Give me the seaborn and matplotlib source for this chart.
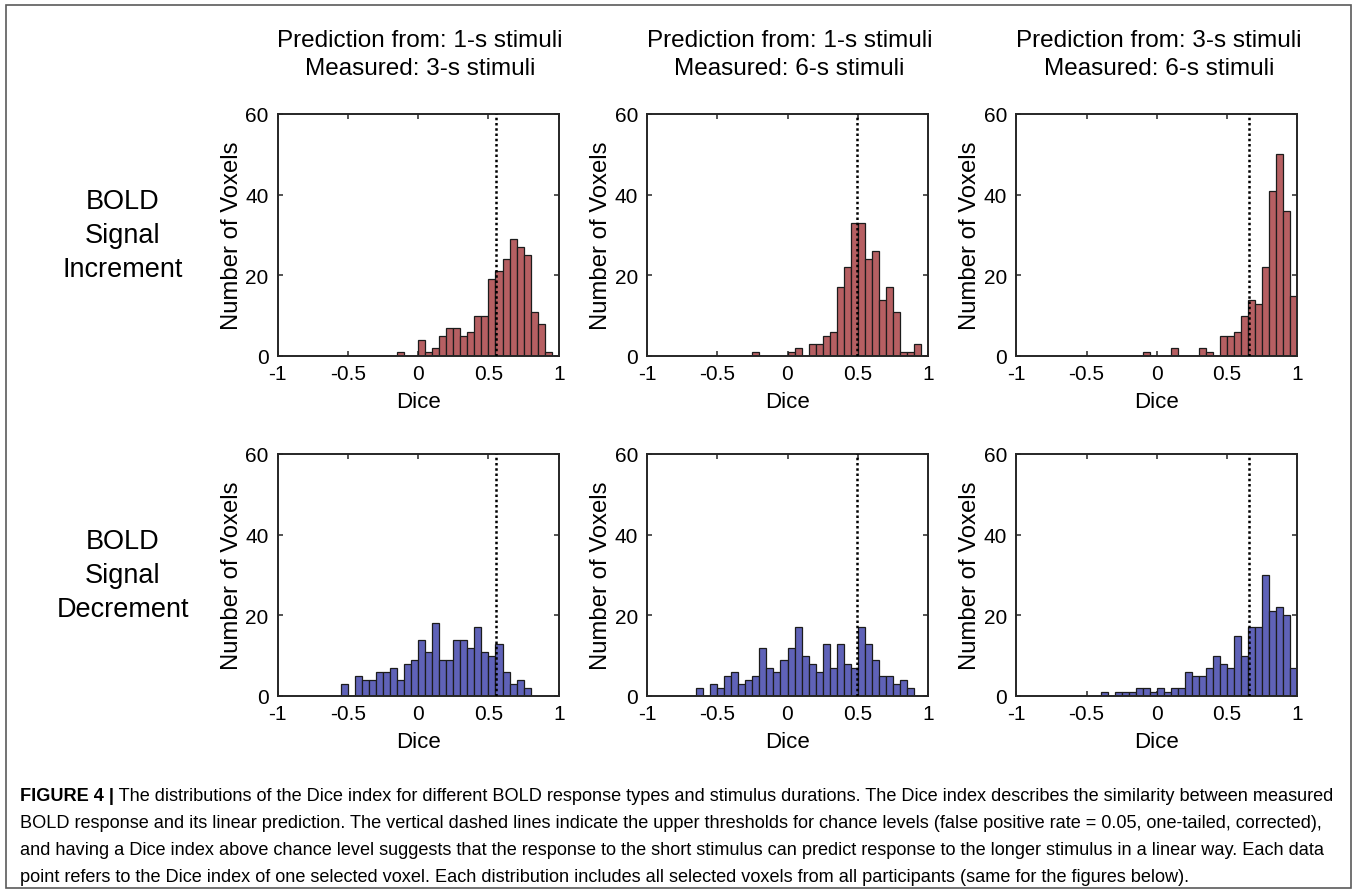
import numpy as np
import pandas as pd
import matplotlib
matplotlib.use("Agg")
import matplotlib.pyplot as plt
import seaborn as sns
from matplotlib.patches import Rectangle

# voxel counts per 0.05-wide Dice bin
# *_start = left edge of the first listed bin
inc_1to3_start = -0.15
inc_1to3 = [1, 0, 0, 4, 1, 2, 5, 7, 7, 5, 6, 10, 10, 19, 21, 24, 29, 27, 25, 11, 8, 1]
inc_1to6_start = -0.25
inc_1to6 = [1, 0, 0, 0, 0, 1, 2, 0, 3, 3, 5, 6, 17, 22, 33, 33, 24, 26, 14, 17, 11, 1, 1, 3]
inc_3to6_start = -0.10
inc_3to6 = [1, 0, 0, 0, 2, 0, 0, 0, 2, 1, 0, 5, 5, 6, 10, 14, 13, 22, 41, 50, 36, 15]

dec_1to3_start = -0.55
dec_1to3 = [3, 0, 5, 4, 4, 6, 6, 7, 4, 8, 9, 14, 11, 18, 9, 9, 14, 14, 12, 17, 11, 10, 13, 6, 3, 4, 2]
dec_1to6_start = -0.65
dec_1to6 = [2, 0, 3, 2, 5, 6, 3, 4, 5, 12, 7, 6, 9, 12, 17, 10, 8, 6, 13, 7, 13, 8, 7, 17, 13, 9, 5, 5, 3, 4, 2]
dec_3to6_start = -0.40
dec_3to6 = [1, 0, 1, 1, 1, 2, 2, 1, 2, 1, 2, 2, 6, 5, 5, 7, 10, 8, 7, 15, 10, 17, 17, 30, 21, 22, 20, 7]

# chance-level thresholds per column
thresholds = [0.555, 0.495, 0.655]

col_titles = [("Prediction from: 1-s stimuli", "Measured: 3-s stimuli"),
              ("Prediction from: 1-s stimuli", "Measured: 6-s stimuli"),
              ("Prediction from: 3-s stimuli", "Measured: 6-s stimuli")]
row_names = [["BOLD", "Signal", "Increment"], ["BOLD", "Signal", "Decrement"]]
xtick_vals = [-1, -0.5, 0, 0.5, 1]
xtick_labels = ["-1", "-0.5", "0", "0.5", "1"]
ytick_vals = [0, 20, 40, 60]

caption_bold = "FIGURE 4 |"
caption_lines = [
    " The distributions of the Dice index for different BOLD response types and stimulus durations. The Dice index describes the similarity between measured",
    "BOLD response and its linear prediction. The vertical dashed lines indicate the upper thresholds for chance levels (false positive rate = 0.05, one-tailed, corrected),",
    "and having a Dice index above chance level suggests that the response to the short stimulus can predict response to the longer stimulus in a linear way. Each data",
    "point refers to the Dice index of one selected voxel. Each distribution includes all selected voxels from all participants (same for the figures below).",
]

panels = [[(inc_1to3_start, inc_1to3), (inc_1to6_start, inc_1to6), (inc_3to6_start, inc_3to6)],
          [(dec_1to3_start, dec_1to3), (dec_1to6_start, dec_1to6), (dec_3to6_start, dec_3to6)]]
row_colors = ["#B65F62", "#5F62B8"]

sns.set_style("ticks")
plt.rcParams['font.family'] = ['Liberation Sans', 'DejaVu Sans']
plt.rcParams['axes.unicode_minus'] = False
plt.rcParams['text.color'] = 'black'
plt.rcParams['axes.labelcolor'] = 'black'

W, H = 1357, 895
fig = plt.figure(figsize=(W / 100, H / 100), dpi=100)

bin_width = 0.05
edges = [round(-1 + bin_width * i, 2) for i in range(41)]

lefts = [277.7, 647.0, 1016.3]
tops = [115.0, 455.0]
ax_w, ax_h = 281.0, 242.0


def hist_panel(ax, start, counts, color, thr):
    centers = start + bin_width * (np.arange(len(counts)) + 0.5)
    df = pd.DataFrame({"Dice": centers, "n": counts})
    sns.histplot(data=df, x="Dice", weights="n", bins=edges, color=color, alpha=1,
                 edgecolor="#1c1c1c", linewidth=0.9, ax=ax)
    ax.axvline(thr, color="black", linestyle=(0, (1, 1.1)), linewidth=1.8, zorder=5)
    ax.set_xlim(-1, 1)
    ax.set_ylim(0, 60)
    ax.set_xticks(xtick_vals)
    ax.set_xticklabels(xtick_labels)
    ax.set_yticks(ytick_vals)
    ax.tick_params(axis='both', direction='in', length=3.5, width=1.1, top=True, right=True,
                   labelsize=15, colors="#262626", labelcolor="black")
    ax.tick_params(axis='x', pad=6)
    ax.tick_params(axis='y', pad=6.5)
    for s in ax.spines.values():
        s.set_linewidth(1.4)
        s.set_color("#262626")
    ax.set_xlabel("Dice", fontsize=16)
    ax.set_ylabel("Number of Voxels", fontsize=17.2)
    ax.xaxis.set_label_coords(0.5, -0.145)
    ax.yaxis.set_label_coords(-0.125, 0.5)


for r in range(2):
    for c in range(3):
        ax = fig.add_axes([lefts[c] / W, 1 - (tops[r] + ax_h) / H, ax_w / W, ax_h / H])
        start, counts = panels[r][c]
        hist_panel(ax, start, counts, row_colors[r], thresholds[c])

# column headers
for c in range(3):
    xc = (lefts[c] + ax_w / 2 + 2) / W
    fig.text(xc, 1 - 47 / H, col_titles[c][0], ha='center', va='baseline', fontsize=17.5)
    fig.text(xc, 1 - 75 / H, col_titles[c][1], ha='center', va='baseline', fontsize=17.5)

# row headers
for r in range(2):
    for i, word in enumerate(row_names[r]):
        y = 209 + 340 * r + 34 * i
        fig.text(123 / W, 1 - y / H, word, ha='center', va='baseline', fontsize=19.5)

# caption
renderer = fig.canvas.get_renderer()
cap_y = [797, 824, 851, 878]
cap_size = 13.1
t = fig.text(20 / W, 1 - cap_y[0] / H, caption_bold, ha='left', va='center',
             fontsize=cap_size, fontweight='bold')
bb = t.get_window_extent(renderer)
fig.text(bb.x1 / W, 1 - cap_y[0] / H, caption_lines[0], ha='left', va='center', fontsize=cap_size)
for i in range(1, 4):
    fig.text(20 / W, 1 - cap_y[i] / H, caption_lines[i], ha='left', va='center', fontsize=cap_size)

# outer frame
fig.patches.append(Rectangle((6 / W, 6 / H), 1 - 12 / W, 1 - 12 / H, transform=fig.transFigure,
                             fill=False, edgecolor="#5a5a5a", linewidth=1.2))

fig.savefig("out.png", dpi=100)
